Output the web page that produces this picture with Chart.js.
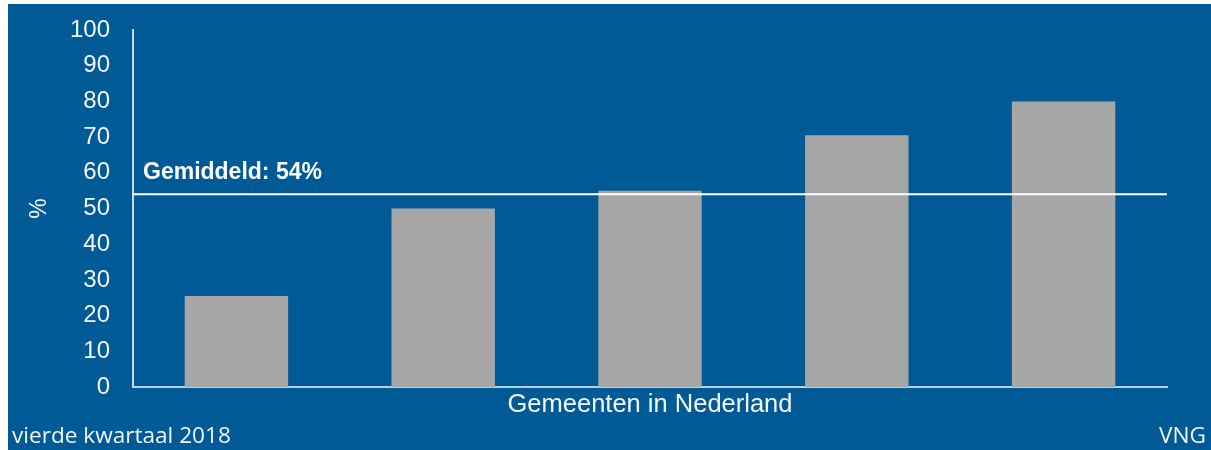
<!DOCTYPE html>
<html lang="nl">
<head>
  <meta charset="UTF-8" />
  <title>Gemeenten in Nederland</title>
  <script src="https://cdn.jsdelivr.net/npm/chart.js"></script>
  <style>
    html, body {
      margin: 0;
      padding: 0;
      background: #ffffff;
    }
    .chart-box {
      position: absolute;
      left: 8px;
      top: 4px;
      width: 1203px;
      height: 446px;
      background: #005a96;
    }
  </style>
</head>
<body>

<div class="chart-box">
  <canvas id="chart"></canvas>
</div>

<script>
  // Data
  const categories = ['Groep 1', 'Groep 2', 'Groep 3', 'Groep 4', 'Groep 5'];
  const values = [25.5, 50, 55, 70.5, 80];
  const average = 54;
  const averageLabel = 'Gemiddeld: 54%';
  const yMin = 0;
  const yMax = 100;
  const yStep = 10;
  const xTitle = 'Gemeenten in Nederland';
  const yTitle = '%';
  const footLeft = 'vierde kwartaal 2018';
  const footRight = 'VNG';

  const textColor = '#f2f6fa';
  const sans = '"Liberation Sans", Arial, sans-serif';

  // average line + footer texts
  const extras = {
    id: 'extras',
    afterDatasetsDraw(chart) {
      const { ctx, chartArea, scales } = chart;
      const y = scales.y.getPixelForValue(average);
      ctx.save();
      ctx.strokeStyle = '#ffffff';
      ctx.lineWidth = 2;
      ctx.beginPath();
      ctx.moveTo(chartArea.left, y);
      ctx.lineTo(chartArea.right, y);
      ctx.stroke();

      ctx.fillStyle = '#ffffff';
      ctx.font = 'bold 23px ' + sans;
      ctx.textAlign = 'left';
      ctx.textBaseline = 'alphabetic';
      ctx.fillText(averageLabel, chartArea.left + 10, y - 15);
      ctx.restore();
    },
    afterDraw(chart) {
      const { ctx, width } = chart;
      ctx.save();
      ctx.fillStyle = textColor;
      ctx.font = '22.6px "Open Sans", sans-serif';
      ctx.textBaseline = 'alphabetic';
      ctx.textAlign = 'left';
      ctx.fillText(footLeft, 4, 439);
      ctx.textAlign = 'right';
      ctx.fillText(footRight, width - 5, 439);
      ctx.restore();
    }
  };

  new Chart(document.getElementById('chart').getContext('2d'), {
    type: 'bar',
    data: {
      labels: categories,
      datasets: [{
        data: values,
        backgroundColor: '#a6a6a6',
        borderWidth: 0,
        barPercentage: 0.5,
        categoryPercentage: 1
      }]
    },
    options: {
      responsive: true,
      maintainAspectRatio: false,
      animation: false,
      layout: { padding: { left: 0, right: 44, top: 26, bottom: 0 } },
      plugins: {
        legend: { display: false },
        tooltip: { enabled: false }
      },
      scales: {
        x: {
          grid: { display: false, drawTicks: false },
          border: { color: '#b4d0e8', width: 2 },
          ticks: { display: false },
          title: {
            display: true,
            text: xTitle,
            color: textColor,
            font: { family: sans, size: 25.5 },
            padding: { top: 0, bottom: 30 }
          },
          afterFit(scale) { scale.height = 63; }
        },
        y: {
          min: yMin,
          max: yMax,
          grid: { display: false, drawTicks: true, tickLength: 23 },
          border: { color: '#c4dbee', width: 2 },
          ticks: {
            stepSize: yStep,
            color: textColor,
            padding: 0,
            font: { family: sans, size: 24 }
          },
          title: {
            display: true,
            text: yTitle,
            color: textColor,
            font: { family: sans, size: 23 },
            padding: { top: 18, bottom: 0 }
          },
          afterFit(scale) { scale.width = 125; }
        }
      }
    },
    plugins: [extras]
  });
</script>

</body>
</html>
